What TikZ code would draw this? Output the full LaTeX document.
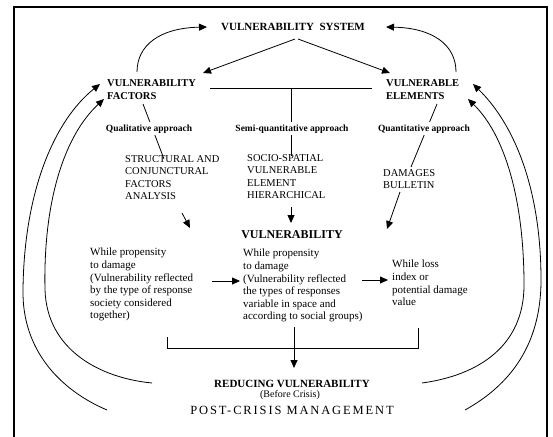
\documentclass[tikz,border=0pt]{standalone}
\usepackage{fontspec}
\setmainfont{Liberation Serif}
\usetikzlibrary{arrows.meta}
\begin{document}
\begin{tikzpicture}[x=1pt,y=-1pt,
  line/.style={line width=0.8pt},
  arr/.style={line width=0.8pt,-{Triangle[length=8pt,width=7pt]}},
  frame/.style={line width=1.3pt},
  hd/.style={font=\bfseries\fontsize{11}{13}\selectfont,inner sep=0pt,anchor=base},
  sub/.style={font=\bfseries\fontsize{10.5}{12.5}\selectfont,inner sep=0pt,anchor=north west,align=left},
  appr/.style={font=\bfseries\fontsize{9.5}{11}\selectfont,inner sep=2pt,fill=white,anchor=base},
  lst/.style={font=\fontsize{10.5}{12.3}\selectfont,inner sep=0pt,anchor=north west,align=left},
  para/.style={font=\fontsize{11}{12.6}\selectfont,inner sep=0pt,anchor=north west,align=left},
  big/.style={font=\bfseries\fontsize{12}{14}\selectfont,inner sep=0pt,anchor=base},
  red/.style={font=\bfseries\fontsize{11}{12}\selectfont,inner sep=0pt,anchor=base},
  small/.style={font=\fontsize{10}{11}\selectfont,inner sep=0pt,anchor=base},
  post/.style={font=\fontsize{12.5}{14}\selectfont\addfontfeature{LetterSpace=15},inner sep=0pt,anchor=base}
]
\useasboundingbox (0,0) rectangle (553,436);
\fill[white] (0,0) rectangle (553,436);
% frame
\draw[frame] (14,437) -- (14,7) -- (547,7) -- (547,437);

% coordinates
\coordinate (sysL) at (295,39);
\coordinate (sysR) at (298,39);
\coordinate (vfT) at (203,73);
\coordinate (veT) at (390,73);
\coordinate (c1s) at (137,72);
\coordinate (c1e) at (207,27);
\coordinate (c2s) at (456,72);
\coordinate (c2e) at (386,27);
\coordinate (h1) at (210,88);
\coordinate (h2) at (372,88);
\coordinate (hm) at (291,88);
\coordinate (vmb) at (291,156);
\coordinate (q1) at (143,104);
\coordinate (q2) at (164,159);
\coordinate (n1) at (437,104);
\coordinate (n2) at (411,167);
\coordinate (a1s) at (182,213);
\coordinate (a1e) at (190,228);
\coordinate (a2s) at (291,207);
\coordinate (a2e) at (291,223);
\coordinate (a3s) at (400,192);
\coordinate (a3e) at (387,229);
\coordinate (h3s) at (212,281);
\coordinate (h3e) at (240,281);
\coordinate (h4s) at (362,280);
\coordinate (h4e) at (388,280);
\coordinate (b1) at (167,337);
\coordinate (b2) at (167,348);
\coordinate (b3) at (418,348);
\coordinate (b4) at (418,328);
\coordinate (dS) at (294,327);
\coordinate (dE) at (294,368);
\coordinate (lo1) at (107,410);
\coordinate (lo2) at (23,290);
\coordinate (lo3) at (100,84);
\coordinate (li1) at (152,383);
\coordinate (li2) at (45,290);
\coordinate (li3) at (104,99);
\coordinate (ro1) at (465,410);
\coordinate (ro2) at (541,280);
\coordinate (ro3) at (473,84);
\coordinate (ri1) at (422,383);
\coordinate (ri2) at (524,285);
\coordinate (ri3) at (468,99);

% connectors
\draw[arr] (sysL) -- (vfT);
\draw[arr] (sysR) -- (veT);
\draw[arr] (c1s) .. controls (137,45) and (160,28) .. (c1e);
\draw[arr] (c2s) .. controls (456,45) and (433,28) .. (c2e);
\draw[line] (h1) -- (h2);
\draw[line] (hm) -- (vmb);
\draw[line] (q1) -- (q2);
\draw[line] (n1) -- (n2);
\draw[arr] (a1s) -- (a1e);
\draw[arr] (a2s) -- (a2e);
\draw[arr] (a3s) -- (a3e);
\draw[arr] (h3s) -- (h3e);
\draw[arr] (h4s) -- (h4e);
\draw[line] (b1) -- (b2) -- (b3) -- (b4);
\draw[arr] (dS) -- (dE);
\draw[arr] (lo1) .. controls (60,390) and (22,350) .. (lo2) .. controls (24,190) and (55,120) .. (lo3);
\draw[arr] (li1) .. controls (100,378) and (47,350) .. (li2) .. controls (43,200) and (65,135) .. (li3);
\draw[arr] (ro1) .. controls (510,385) and (541,345) .. (ro2) .. controls (541,190) and (515,125) .. (ro3);
\draw[arr] (ri1) .. controls (480,375) and (524,345) .. (ri2) .. controls (524,200) and (505,135) .. (ri3);

% texts
\node[hd] (sys) at (293,30.7) {VULNERABILITY\ \ SYSTEM};
\node[sub] (vf) at (107,79.5) {VULNERABILITY\\FACTORS};
\node[sub] (ve) at (386,79.5) {VULNERABLE\\ELEMENTS};
\node[appr] (qual) at (149,131) {Qualitative approach};
\node[appr] (semi) at (292,131) {Semi-quantitative approach};
\node[appr] (quan) at (424,131) {Quantitative approach};
\node[lst] (struct) at (125,155.5) {STRUCTURAL AND\\CONJUNCTURAL\\FACTORS\\ANALYSIS};
\node[lst] (socio) at (247,154.5) {SOCIO-SPATIAL\\VULNERABLE\\ELEMENT\\HIERARCHICAL};
\node[lst] (dam) at (383,169.5) {DAMAGES\\BULLETIN};
\node[big] (vul) at (292,238) {VULNERABILITY};
\node[para] (pl) at (90,248) {While propensity\\to damage\\(Vulnerability reflected\\by the type of response\\society considered\\together)};
\node[para] (pm) at (243,249) {While propensity\\to damage\\(Vulnerability reflected\\the types of responses\\variable in space and\\according to social groups)};
\node[para] (pr) at (392,260) {While loss\\index or\\potential damage\\value};
\node[red] (redu) at (292,387) {REDUCING VULNERABILITY};
\node[small] (bc) at (290,397) {(Before Crisis)};
\node[post] (pcm) at (292,414) {POST-CRISIS MANAGEMENT};
\end{tikzpicture}
\end{document}
